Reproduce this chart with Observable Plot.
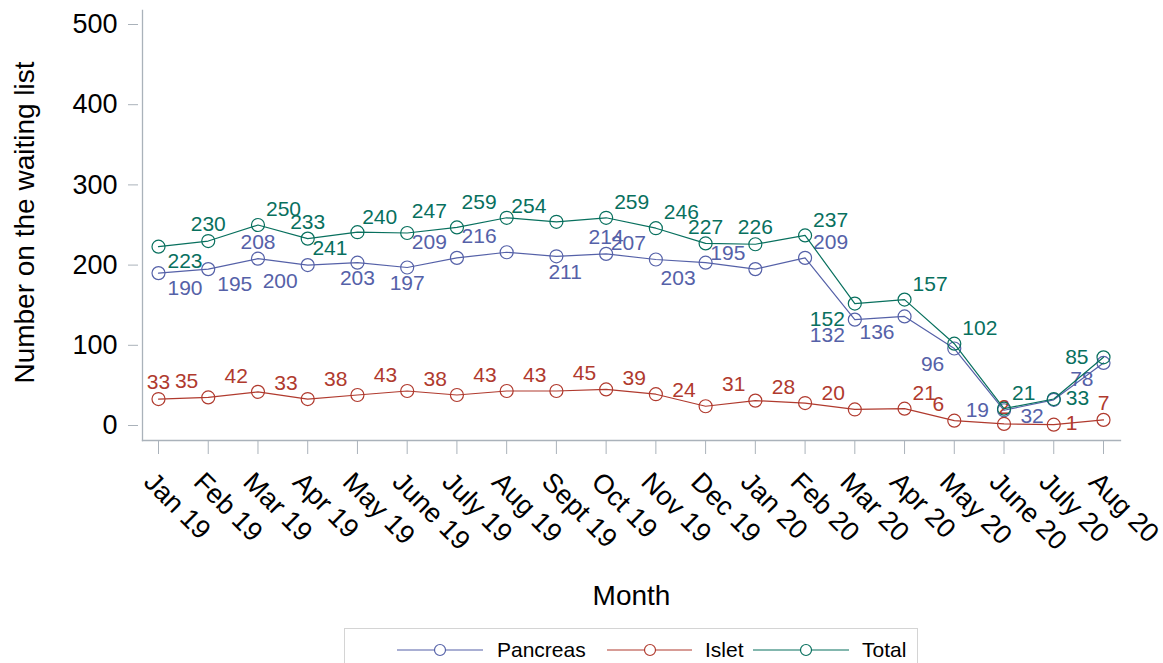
<!DOCTYPE html>
<html><head><meta charset="utf-8">
<script src="https://cdn.jsdelivr.net/npm/d3@7"></script>
<script src="https://cdn.jsdelivr.net/npm/@observablehq/plot@0.6"></script>
<style>
html,body{margin:0;padding:0;background:#fff;overflow:hidden;width:1163px;height:663px;}
#wrap{position:relative;width:1163px;height:663px;font-family:"Liberation Sans",Arial,sans-serif;}
#chart{position:absolute;left:0;top:0;}
#legend{position:absolute;left:344px;top:628px;}
</style></head><body><div id="wrap"><div id="chart"></div><div id="legend"></div></div>
<script>
const months = ["Jan 19","Feb 19","Mar 19","Apr 19","May 19","June 19","July 19","Aug 19","Sept 19","Oct 19","Nov 19","Dec 19","Jan 20","Feb 20","Mar 20","Apr 20","May 20","June 20","July 20","Aug 20"];
const pancreas = [190,195,208,200,203,197,209,216,211,214,207,203,195,209,132,136,96,19,32,78];
const islet    = [33,35,42,33,38,43,38,43,43,45,39,24,31,28,20,21,6,2,1,7];
const total    = [223,230,250,233,241,240,247,259,254,259,246,227,226,237,152,157,102,21,33,85];
// label clock positions (Stata-style mlabposition)
const pancreasLabelPos = [4,4,12,7,6,6,11,11,5,12,11,7,11,1,7,7,7,9,7,7];
const isletLabelPos    = [12,11,11,11,11,11,11,11,11,11,11,11,11,11,11,1,11,12,3,12];
const totalLabelPos    = [4,12,1,12,7,11,11,11,11,1,1,12,12,1,7,1,1,1,3,9];
const seriesNames  = ["Pancreas","Islet","Total"];
const seriesColors = ["#5561a8","#b03a2e","#08705e"];
const yTicks = [0,100,200,300,400,500];
const xTitle = "Month";
const yTitle = "Number on the waiting list";

const seriesValues = [pancreas, islet, total];
const seriesPos = [pancreasLabelPos, isletLabelPos, totalLabelPos];
const rows = [];
seriesNames.forEach((s, k) => months.forEach((m, i) => rows.push({series: s, month: m, value: seriesValues[k][i], pos: seriesPos[k][i]})));

const clock = {
  12: {dx: 0,   dy: -16.5, a: "middle"},
  1:  {dx: 8,   dy: -15.5, a: "start"},
  3:  {dx: 12,  dy: -1,    a: "start"},
  4:  {dx: 9,   dy: 15,    a: "start"},
  5:  {dx: -8,  dy: 16,    a: "start"},
  6:  {dx: 0,   dy: 15.5,  a: "middle"},
  7:  {dx: -10, dy: 16,    a: "end"},
  9:  {dx: -15, dy: 0,     a: "end"},
  11: {dx: -10, dy: -16,   a: "end"}
};

const axisColor = "#aab2ba";
const marks = [
  Plot.frame({anchor: "left", stroke: axisColor, strokeWidth: 1.3}),
  Plot.frame({anchor: "bottom", stroke: axisColor, strokeWidth: 1.3}),
  Plot.axisY({ticks: yTicks, tickSize: 10, dx: -4, tickPadding: 11, fontSize: 27, stroke: axisColor, fill: "#000", label: null, tickFormat: d => String(d)}),
  Plot.axisX({tickSize: 14, stroke: axisColor, tickFormat: () => "", label: null}),
  Plot.text(months, {x: d => d, frameAnchor: "bottom", rotate: 45, textAnchor: "start", lineAnchor: "middle", dx: -10, dy: 37, fontSize: 27, fill: "#000"}),
  Plot.text([xTitle], {frameAnchor: "bottom", dy: 156, fontSize: 28, lineAnchor: "middle", fill: "#000"}),
  Plot.text([yTitle], {frameAnchor: "left", rotate: -90, dx: -117, dy: -3, fontSize: 28, textAnchor: "middle", lineAnchor: "middle", fill: "#000"})
];
seriesNames.forEach(s => {
  const d = rows.filter(r => r.series === s);
  marks.push(Plot.line(d, {x: "month", y: "value", stroke: "series", strokeWidth: 1.2}));
  marks.push(Plot.dot(d, {x: "month", y: "value", stroke: "series", fill: "none", r: 6.5, strokeWidth: 1.2}));
  Object.keys(clock).forEach(p => {
    const c = clock[p];
    const sub = d.filter(r => r.pos === +p);
    if (sub.length) marks.push(Plot.text(sub, {x: "month", y: "value", text: r => String(r.value), fill: "series", dx: c.dx, dy: c.dy, textAnchor: c.a, lineAnchor: "middle", fontSize: 21}));
  });
});

const chart = Plot.plot({
  width: 1163, height: 620,
  marginLeft: 142, marginRight: 43, marginTop: 10, marginBottom: 180,
  style: {fontFamily: "'Liberation Sans', Arial, sans-serif", background: "#fff", overflow: "visible"},
  x: {type: "point", domain: months, range: [158, 1103], padding: 0, round: false},
  y: {domain: [0, 500], range: [425, 24]},
  color: {domain: seriesNames, range: seriesColors},
  marks
});
document.getElementById("chart").append(chart);

// legend
const lg = d3.select("#legend").append("svg").attr("width", 575).attr("height", 45)
  .style("font-family", "'Liberation Sans', Arial, sans-serif");
lg.append("rect").attr("x", 0.5).attr("y", 0.5).attr("width", 573).attr("height", 60)
  .attr("fill", "none").attr("stroke", "#d4d4d4");
const legendItems = [
  {x0: 53, x1: 139, cx: 96, tx: 153},
  {x0: 263, x1: 348, cx: 306, tx: 361},
  {x0: 409, x1: 505, cx: 462, tx: 518}
];
const cy = 22;
seriesNames.forEach((s, k) => {
  const it = legendItems[k];
  lg.append("line").attr("x1", it.x0).attr("x2", it.x1).attr("y1", cy).attr("y2", cy).attr("stroke", seriesColors[k]).attr("stroke-width", 1.2);
  lg.append("circle").attr("cx", it.cx).attr("cy", cy).attr("r", 5.5).attr("fill", "#fff").attr("stroke", seriesColors[k]).attr("stroke-width", 1.2);
  lg.append("text").attr("x", it.tx).attr("y", cy).attr("dy", "0.35em").attr("font-size", 21).attr("fill", "#000").text(s);
});
</script></body></html>
